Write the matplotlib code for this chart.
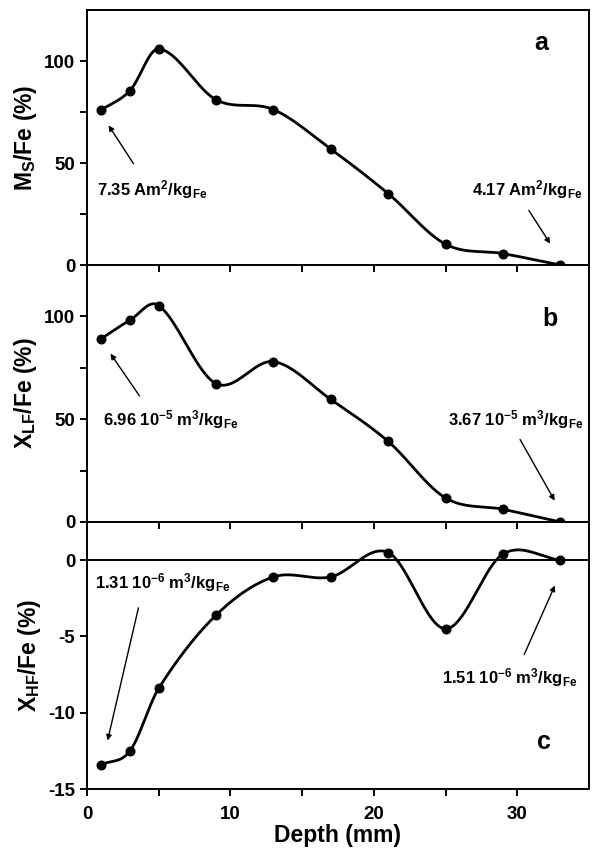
import numpy as np
import matplotlib
matplotlib.use('Agg')
import matplotlib.pyplot as plt

plt.rcParams['font.family'] = 'Liberation Sans'
plt.rcParams['font.weight'] = 'bold'
plt.rcParams['axes.unicode_minus'] = False
plt.rcParams['mathtext.fontset'] = 'custom'
plt.rcParams['mathtext.rm'] = 'Liberation Sans:bold'
plt.rcParams['mathtext.bf'] = 'Liberation Sans:bold'
plt.rcParams['mathtext.default'] = 'bf'

# Datos
depth = [1, 3, 5, 9, 13, 17, 21, 25, 29, 33]
ms_fe = [76, 85.5, 106, 81, 76.2, 56.8, 35, 10.2, 5.6, 0]
xlf_fe = [89.2, 98.2, 105.3, 67.3, 78, 59.6, 39.2, 11.7, 6.2, 0]
xhf_fe = [-13.4, -12.5, -8.4, -3.6, -1.1, -1.1, 0.5, -4.5, 0.4, 0]

letras = ['a', 'b', 'c']
etiquetas_y = ['M$_S$/Fe (%)', 'X$_{LF}$/Fe (%)', 'X$_{HF}$/Fe (%)']
notas_izq = ['7.35 Am$^2$/kg$_{Fe}$', '6.96 10$^{-5}$ m$^3$/kg$_{Fe}$', '1.31 10$^{-6}$ m$^3$/kg$_{Fe}$']
notas_der = ['4.17 Am$^2$/kg$_{Fe}$', '3.67 10$^{-5}$ m$^3$/kg$_{Fe}$', '1.51 10$^{-6}$ m$^3$/kg$_{Fe}$']


def curva_suave(x, y, n=40):
    # Hermite cubico tipo Catmull-Rom entre los puntos medidos
    x = np.asarray(x, float)
    y = np.asarray(y, float)
    k = len(x)
    m = np.zeros(k)
    m[0] = (y[1] - y[0]) / (x[1] - x[0])
    m[-1] = (y[-1] - y[-2]) / (x[-1] - x[-2])
    m[1:-1] = (y[2:] - y[:-2]) / (x[2:] - x[:-2])
    xs_all, ys_all = [], []
    for i in range(k - 1):
        h = x[i + 1] - x[i]
        t = np.linspace(0, 1, n)
        h00 = 2 * t**3 - 3 * t**2 + 1
        h10 = t**3 - 2 * t**2 + t
        h01 = -2 * t**3 + 3 * t**2
        h11 = t**3 - t**2
        xs_all.append(x[i] + t * h)
        ys_all.append(h00 * y[i] + h10 * h * m[i] + h01 * y[i + 1] + h11 * h * m[i + 1])
    return np.concatenate(xs_all), np.concatenate(ys_all)


fig = plt.figure(figsize=(5.94, 8.5), dpi=100)
W, H = 594, 850
left, right = 87, 589
paneles = [(10, 265), (265, 522), (522, 789)]
series = [ms_fe, xlf_fe, xhf_fe]
pos_letra = [(0.904, 0.87), (0.922, 0.79), (0.91, 0.176)]

for i, (top, bot) in enumerate(paneles):
    ax = fig.add_axes([left / W, 1 - bot / H, (right - left) / W, (bot - top) / H])
    ax.patch.set_alpha(0)
    xs, ys = curva_suave(depth, series[i])
    ax.plot(xs, ys, color='black', lw=2.0, zorder=3)
    ax.plot(depth, series[i], 'o', color='black', ms=6.2, zorder=4)
    ax.set_xlim(0, 35)
    ax.set_xticks([0, 5, 10, 15, 20, 25, 30])
    ax.tick_params(direction='out', length=5, width=1.4, labelsize=13.5)
    for s in ax.spines.values():
        s.set_linewidth(1.4)
    if i < 2:
        ax.set_ylim(0, 125)
        ax.set_yticks([0, 50, 100])
        ax.set_yticks([25, 75], minor=True)
        ax.tick_params(which='minor', direction='out', length=5, width=1.4)
        ax.tick_params(axis='x', labelbottom=False)
        if i == 1:
            ax.spines['top'].set_visible(False)
    else:
        ax.set_ylim(-15, 2.5)
        ax.set_yticks([0, -5, -10, -15])
        ax.set_xticks([0, 10, 20, 30])
        ax.set_xticks([5, 15, 25], minor=True)
        ax.tick_params(axis='x', which='both', pad=7)
        ax.tick_params(axis='x', which='minor', direction='out', length=5, width=1.4)
        ax.axhline(0, color='black', lw=1.4, zorder=2)
        ax.spines['top'].set_visible(False)
        ax.set_xlabel('Depth (mm)', fontsize=16.5, fontweight='bold', labelpad=1)
    ax.set_ylabel(etiquetas_y[i], fontsize=16.5, fontweight='bold', labelpad=4)
    ax.text(pos_letra[i][0], pos_letra[i][1], letras[i], transform=ax.transAxes,
            fontsize=18, fontweight='bold', ha='center', va='center')

# anotaciones con flechas (coordenadas de datos)
flecha = dict(arrowstyle='-|>', color='black', lw=1.0, mutation_scale=8)
fs = 12
axs = fig.axes
axs[0].annotate('', xy=(1.4, 69.6), xytext=(3.35, 48.5), arrowprops=flecha)
axs[0].text(0.7, 36.8, notas_izq[0], fontsize=fs, ha='left', va='center')
axs[0].annotate('', xy=(32.4, 9.3), xytext=(30.7, 27.9), arrowprops=flecha)
axs[0].text(34.5, 36.8, notas_der[0], fontsize=fs, ha='right', va='center')

axs[1].annotate('', xy=(1.53, 83), xytext=(3.77, 60.2), arrowprops=flecha)
axs[1].text(1.1, 50, notas_izq[1], fontsize=fs, ha='left', va='center')
axs[1].annotate('', xy=(32.7, 9.2), xytext=(30.1, 41.3), arrowprops=flecha)
axs[1].text(34.6, 50, notas_der[1], fontsize=fs, ha='right', va='center')

axs[2].annotate('', xy=(1.39, -12.0), xytext=(3.63, -2.95), arrowprops=flecha)
axs[2].text(0.56, -1.5, notas_izq[2], fontsize=fs, ha='left', va='center')
axs[2].annotate('', xy=(32.7, -1.5), xytext=(30.4, -6.36), arrowprops=flecha)
axs[2].text(34.2, -7.7, notas_der[2], fontsize=fs, ha='right', va='center')

fig.savefig('out.png', dpi=100)
